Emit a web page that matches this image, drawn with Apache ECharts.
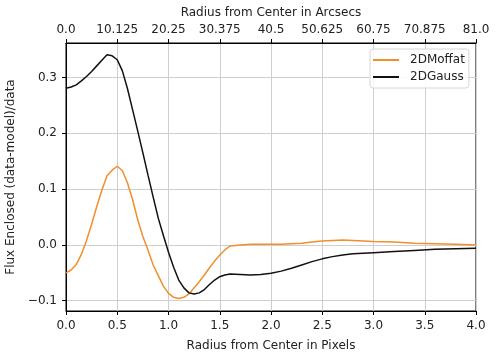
<!DOCTYPE html>
<html lang="en">
<head>
<meta charset="utf-8">
<title>Flux Enclosed residuals</title>
<script src="https://cdn.jsdelivr.net/npm/echarts@6/dist/echarts.min.js"></script>
<style>
  html, body { margin: 0; padding: 0; background: #fff; }
  #main { width: 498px; height: 358px; }
</style>
</head>
<body>
<div id="main"></div>
<script type="text/javascript">
// radius in pixels (bottom axis)
var radius = [0, 0.05, 0.1, 0.15, 0.2, 0.25, 0.3, 0.35, 0.4, 0.45, 0.5, 0.55, 0.6, 0.65, 0.7, 0.75,
  0.8, 0.85, 0.9, 0.95, 1.0, 1.05, 1.1, 1.15, 1.2, 1.25, 1.3, 1.35, 1.4, 1.45, 1.5, 1.55, 1.6,
  1.7, 1.8, 1.9, 2.0, 2.1, 2.2, 2.3, 2.4, 2.5, 2.6, 2.7, 2.8, 2.9, 3.0, 3.2, 3.4, 3.6, 3.8, 4.0];

var moffat = [-0.050, -0.045, -0.035, -0.017, 0.008, 0.037, 0.069, 0.098, 0.124, 0.134, 0.141, 0.133,
  0.111, 0.081, 0.045, 0.015, -0.009, -0.036, -0.055, -0.074, -0.087, -0.094, -0.096, -0.094,
  -0.088, -0.077, -0.066, -0.054, -0.041, -0.029, -0.018, -0.009, -0.002,
  0.000, 0.001, 0.001, 0.001, 0.001, 0.002, 0.003, 0.005, 0.007, 0.008, 0.009, 0.008, 0.007,
  0.006, 0.005, 0.003, 0.002, 0.001, 0.000];

var gauss = [0.281, 0.283, 0.287, 0.294, 0.302, 0.311, 0.321, 0.331, 0.341, 0.339, 0.332, 0.312,
  0.280, 0.242, 0.204, 0.165, 0.125, 0.086, 0.048, 0.017, -0.013, -0.040, -0.063, -0.077,
  -0.086, -0.088, -0.086, -0.080, -0.071, -0.063, -0.057, -0.054, -0.052,
  -0.053, -0.054, -0.053, -0.051, -0.047, -0.042, -0.036, -0.030, -0.025, -0.021, -0.018,
  -0.016, -0.015, -0.014, -0.012, -0.010, -0.008, -0.007, -0.006];

// top axis (arcsec) tick labels
var arcsecLabels = ['0.0', '10.125', '20.25', '30.375', '40.5', '50.625', '60.75', '70.875', '81.0'];
// y ticks
var yTicks = [-0.1, 0.0, 0.1, 0.2, 0.3];

function pairs(ys) {
  var res = [];
  for (var i = 0; i < radius.length; i++) {
    res.push([radius[i], ys[i]]);
  }
  return res;
}

var font = 'DejaVu Sans';
var fs = 12;
var txt = '#222';
var myChart = echarts.init(document.getElementById('main'));

var option = {
  animation: false,
  textStyle: { fontFamily: font },
  grid: {
    left: 66, right: 22, top: 43, bottom: 47,
    outerBoundsMode: 'none',
    show: true, borderColor: '#000', borderWidth: 1
  },
  legend: {
    orient: 'vertical',
    left: 370, top: 49,
    itemWidth: 26, itemHeight: 2, itemGap: 5,
    padding: [5, 4, 5, 3],
    backgroundColor: 'rgba(255,255,255,0.85)',
    borderColor: '#d6d6d6', borderWidth: 1, borderRadius: 3,
    textStyle: { fontFamily: font, fontSize: fs, color: txt, padding: [0, 0, 0, 6] },
    data: [
      { name: '2DMoffat', icon: 'rect' },
      { name: '2DGauss', icon: 'rect' }
    ]
  },
  xAxis: [
    {
      type: 'value', position: 'bottom',
      min: 0, max: 4, interval: 0.5,
      name: 'Radius from Center in Pixels', nameLocation: 'middle', nameGap: 29,
      nameTextStyle: { fontFamily: font, fontSize: fs, color: txt },
      axisLine: { show: true, onZero: false, lineStyle: { color: '#000', width: 1 } },
      axisTick: { show: true, length: 4, lineStyle: { color: '#000' } },
      axisLabel: {
        fontFamily: font, fontSize: fs, color: txt, margin: 9,
        formatter: function (v) { return v.toFixed(1); }
      },
      splitLine: { show: true, lineStyle: { color: '#cfcfcf', width: 1 } }
    },
    {
      type: 'value', position: 'top',
      min: 0, max: 81, interval: 10.125,
      name: 'Radius from Center in Arcsecs', nameLocation: 'middle', nameGap: 23,
      nameTextStyle: { fontFamily: font, fontSize: fs, color: txt },
      axisLine: { show: true, onZero: false, lineStyle: { color: '#000', width: 1 } },
      axisTick: { show: true, length: 4, lineStyle: { color: '#000' } },
      axisLabel: {
        fontFamily: font, fontSize: fs, color: txt, margin: 7,
        formatter: function (v, i) { return arcsecLabels[i]; }
      },
      splitLine: { show: false }
    }
  ],
  yAxis: {
    type: 'value',
    min: -0.1185, max: 0.362,
    name: 'Flux Enclosed (data-model)/data', nameLocation: 'middle', nameGap: 44,
    nameTextStyle: { fontFamily: font, fontSize: fs, color: txt },
    axisLine: { show: true, onZero: false, lineStyle: { color: '#000', width: 1 } },
    axisTick: { show: true, length: 4, customValues: yTicks, lineStyle: { color: '#000' } },
    axisLabel: {
      fontFamily: font, fontSize: fs, color: txt, margin: 9,
      customValues: yTicks,
      formatter: function (v) { return v.toFixed(1).replace('-', '\u2212'); }
    },
    splitLine: { show: true, lineStyle: { color: '#cfcfcf', width: 1 } }
  },
  series: [
    {
      name: '2DMoffat', type: 'line', xAxisIndex: 0,
      data: pairs(moffat), showSymbol: false, symbol: 'none',
      itemStyle: { color: '#f28e2b' },
      lineStyle: { color: '#f28e2b', width: 1.5 }
    },
    {
      name: '2DGauss', type: 'line', xAxisIndex: 0,
      data: pairs(gauss), showSymbol: false, symbol: 'none',
      itemStyle: { color: '#111' },
      lineStyle: { color: '#111', width: 1.5 }
    }
  ]
};

myChart.setOption(option);
</script>
</body>
</html>
